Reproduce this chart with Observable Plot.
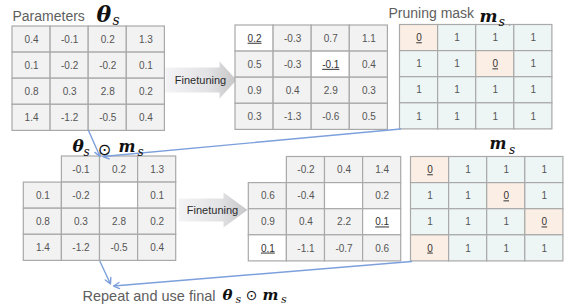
<!DOCTYPE html>
<html>
<head>
<meta charset="utf-8">
<script src="https://cdn.jsdelivr.net/npm/d3@7"></script>
<script src="https://cdn.jsdelivr.net/npm/@observablehq/plot@0.6"></script>
<style>
  html, body { margin: 0; padding: 0; background: #fff; }
  g[aria-description="underlined"] text { text-decoration: underline; }
</style>
</head>
<body>
<div id="chart"></div>
<script>
// ---------- DATA ----------
const params = [
  [0.4, -0.1, 0.2, 1.3],
  [0.1, -0.2, -0.2, 0.1],
  [0.8, 0.3, 2.8, 0.2],
  [1.4, -1.2, -0.5, 0.4]
];
const finetuned1 = [
  [0.2, -0.3, 0.7, 1.1],
  [0.5, -0.3, -0.1, 0.4],
  [0.9, 0.4, 2.9, 0.3],
  [0.3, -1.3, -0.6, 0.5]
];
const mask1 = [
  [0, 1, 1, 1],
  [1, 1, 0, 1],
  [1, 1, 1, 1],
  [1, 1, 1, 1]
];
// null = no cell, "" = empty (pruned) cell
const masked = [
  [null, -0.1, 0.2, 1.3],
  [0.1, -0.2, "", 0.1],
  [0.8, 0.3, 2.8, 0.2],
  [1.4, -1.2, -0.5, 0.4]
];
const finetuned2 = [
  [null, -0.2, 0.4, 1.4],
  [0.6, -0.4, "", 0.2],
  [0.9, 0.4, 2.2, 0.1],
  [0.1, -1.1, -0.7, 0.6]
];
const mask2 = [
  [0, 1, 1, 1],
  [1, 1, 0, 1],
  [1, 1, 1, 0],
  [0, 1, 1, 1]
];
const highlight1 = [[0, 0], [1, 2]];
const highlight2 = [[2, 3], [3, 0]];
const arrowLabel = "Finetuning";

// ---------- LAYOUT ----------
const W = 564, H = 305;
const cw = 38.1, ch = 26.1;
const gridPos = {
  g1: [12, 26], g2: [235, 25], g3: [399.5, 24.5],
  g4: [23.3, 156], g5: [248.3, 156.5], g6: [410.5, 156.5]
};
const C = {
  gray: "#f2f2f2", white: "#ffffff", mint: "#eef6f5", peach: "#fbeee4",
  border: "#a9a9a9", text: "#555555", label: "#5e5e5e", math: "#111111", blue: "#7da0dc"
};

function isIn(list, r, c) { return list.some(([a, b]) => a === r && b === c); }

const cells = [];
function addGrid(key, values, kind, hl) {
  const [x0, y0] = gridPos[key];
  values.forEach((row, r) => row.forEach((v, c) => {
    if (v === null) return;
    let fill, label, ul = false;
    if (kind === "mask") {
      fill = v === 0 ? C.peach : C.mint;
      label = String(v);
      ul = v === 0;
    } else {
      const h = hl && isIn(hl, r, c);
      fill = (h || v === "") ? C.white : C.gray;
      label = v === "" ? "" : String(v);
      ul = !!h;
    }
    cells.push({x1: x0 + c * cw, x2: x0 + (c + 1) * cw, y1: y0 + r * ch, y2: y0 + (r + 1) * ch, fill, label, ul});
  }));
}
addGrid("g1", params, "param");
addGrid("g2", finetuned1, "param", highlight1);
addGrid("g3", mask1, "mask");
addGrid("g4", masked, "param");
addGrid("g5", finetuned2, "param", highlight2);
addGrid("g6", mask2, "mask");

// block arrows: [x0, headBase, tip, cy, bodyHalf, headHalf, textX]
const blockArrows = [
  [165, 219, 236, 79.5, 12.5, 18.5, 200],
  [178, 223, 247, 209.5, 11.5, 17.5, 212]
];
const arrowPts = [];
blockArrows.forEach(([x0, xb, xt, cy, bh, hh], i) => {
  [[x0, cy - bh], [xb, cy - bh], [xb, cy - hh], [xt, cy], [xb, cy + hh], [xb, cy + bh], [x0, cy + bh]]
    .forEach(([x, y]) => arrowPts.push({id: i, x, y}));
});
const arrowTexts = blockArrows.map(a => ({x: a[6], y: a[3], t: arrowLabel}));

// blue connector lines
const links = [
  {x1: 88, y1: 130, x2: 99.5, y2: 156},
  {x1: 400, y1: 128.5, x2: 102.5, y2: 156},
  {x1: 99.5, y1: 261, x2: 110, y2: 283.5},
  {x1: 411, y1: 261, x2: 113, y2: 285.5}
];

// labels
const plainLabels = [
  {t: "Parameters", x: 12, y: 20, s: 14},
  {t: "Pruning mask", x: 388, y: 17.5, s: 14},
  {t: "Repeat and use final", x: 82, y: 300, s: 14.5},
  {t: ".", x: 508, y: 25, s: 8}
];
const mathLabels = [
  {t: "θ", x: 96, y: 21.5, s: 22},
  {t: "m", x: 479, y: 21.7, s: 17},
  {t: "θ", x: 72, y: 151, s: 17},
  {t: "m", x: 118, y: 151, s: 16},
  {t: "m", x: 489, y: 148, s: 16},
  {t: "θ", x: 222, y: 299.5, s: 15},
  {t: "m", x: 262, y: 299.5, s: 15}
];
const subLabels = [
  {t: "s", x: 112, y: 24, s: 14},
  {t: "s", x: 498, y: 25, s: 12.5},
  {t: "s", x: 83, y: 155, s: 12},
  {t: "s", x: 137, y: 155, s: 12},
  {t: "s", x: 508.5, y: 153, s: 12},
  {t: "s", x: 235, y: 302, s: 11},
  {t: "s", x: 280.5, y: 302, s: 11}
];
const opLabels = [
  {t: "⊙", x: 104, y: 149, s: 16},
  {t: "⊙", x: 251, y: 295.5, s: 14}
];

function defs() {
  const ns = "http://www.w3.org/2000/svg";
  const d = document.createElementNS(ns, "defs");
  const g = document.createElementNS(ns, "linearGradient");
  g.setAttribute("id", "blockGrad");
  g.setAttribute("x1", "0"); g.setAttribute("x2", "1"); g.setAttribute("y1", "0"); g.setAttribute("y2", "0");
  [["0", "#f4f4f7"], ["0.6", "#e2e2e5"], ["1", "#c6c6c8"]].forEach(([o, c]) => {
    const s = document.createElementNS(ns, "stop");
    s.setAttribute("offset", o); s.setAttribute("stop-color", c);
    g.appendChild(s);
  });
  d.appendChild(g);
  return d;
}

const cx = d => (d.x1 + d.x2) / 2, cy = d => (d.y1 + d.y2) / 2;

const plot = Plot.plot({
  width: W, height: H,
  margin: 0,
  x: {domain: [0, W], range: [0, W], axis: null},
  y: {domain: [0, H], range: [0, H], axis: null},
  style: {background: "#fff", fontFamily: "'Liberation Sans', Arial, sans-serif"},
  marks: [
    defs,
    Plot.line(arrowPts, {x: "x", y: "y", z: "id", fill: "url(#blockGrad)", stroke: "none"}),
    Plot.text(arrowTexts, {x: "x", y: "y", text: "t", fontSize: 11, fill: "#2a2a2a"}),
    Plot.rect(cells, {x1: "x1", x2: "x2", y1: "y1", y2: "y2", fill: "fill", stroke: C.border, strokeWidth: 1.2}),
    Plot.text(cells.filter(d => !d.ul), {x: cx, y: cy, text: "label", fontSize: 10, fill: C.text}),
    Plot.text(cells.filter(d => d.ul), {x: cx, y: cy, text: "label", fontSize: 10, fill: "#333", ariaDescription: "underlined"}),
    Plot.arrow(links, {x1: "x1", y1: "y1", x2: "x2", y2: "y2", stroke: C.blue, strokeWidth: 1.4, headLength: 7, headAngle: 55}),
    Plot.text(plainLabels, {x: "x", y: "y", text: "t", fontSize: "s", textAnchor: "start", lineAnchor: "bottom", fill: C.label}),
    Plot.text(mathLabels, {x: "x", y: "y", text: "t", fontSize: "s", textAnchor: "start", lineAnchor: "bottom", fill: C.math, fontFamily: "'DejaVu Serif', serif", fontWeight: "bold", fontStyle: "italic"}),
    Plot.text(subLabels, {x: "x", y: "y", text: "t", fontSize: "s", textAnchor: "start", lineAnchor: "bottom", fill: C.math, fontFamily: "'DejaVu Serif', serif", fontStyle: "italic"}),
    Plot.text(opLabels, {x: "x", y: "y", text: "t", fontSize: "s", fill: C.math, fontFamily: "'DejaVu Sans', sans-serif"})
  ]
});
document.getElementById("chart").appendChild(plot);
</script>
</body>
</html>
